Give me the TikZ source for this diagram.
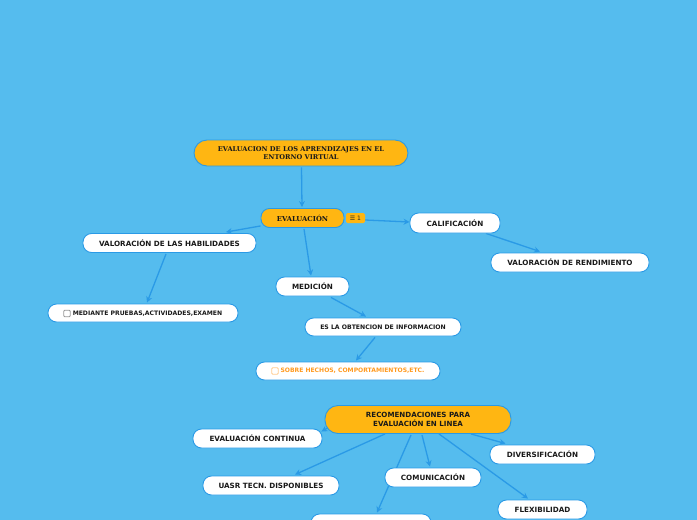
\documentclass[tikz,border=0pt]{standalone}
\usepackage{fontspec}
\setmainfont{DejaVu Sans}
\newfontfamily\titlefont{DejaVu Serif}
\usetikzlibrary{backgrounds,arrows.meta}
\definecolor{bgblue}{HTML}{55BCEE}
\definecolor{edgeblue}{HTML}{2A9AE6}
\definecolor{fillorange}{HTML}{FFB612}
\definecolor{textorange}{HTML}{FF9A1F}
\tikzset{x=1pt,y=-1pt,
 box/.style={draw=edgeblue,line width=0.9pt,rounded corners=8.5pt,inner sep=0pt,align=center,font=\bfseries\fontsize{7.2}{9}\selectfont,text=black!90},
 whitebox/.style={box,fill=white},
 orangebox/.style={box,fill=fillorange},
 conn/.style={draw=edgeblue,line width=1.3pt,-{Stealth[length=6pt,width=6pt]}},
 chk/.style={draw=gray!80,fill=white,rounded corners=1pt,line width=0.8pt,minimum size=6.5pt,inner sep=0pt},
 badge/.style={fill=fillorange,rounded corners=1.5pt,inner sep=0pt,minimum width=19pt,minimum height=10pt,font=\fontsize{6}{7}\selectfont,text=black!85}
}
\begin{document}
\begin{tikzpicture}
\useasboundingbox (0,0) rectangle (697,520);
\clip (0,0) rectangle (697,520);
\begin{scope}[on background layer]
\fill[bgblue] (0,0) rectangle (697,520);
\end{scope}
\node[orangebox,rounded corners=13pt,minimum width=214pt,minimum height=26pt,font=\titlefont\bfseries\fontsize{6.6}{8.3}\selectfont] (root) at (301,153) {EVALUACION DE LOS APRENDIZAJES EN EL\\ENTORNO VIRTUAL};
\node[orangebox,minimum width=83pt,minimum height=19pt,font=\titlefont\bfseries\fontsize{6.8}{9}\selectfont] (eval) at (302.5,218) {EVALUACIÓN};
\node[badge] (bdg) at (355.5,218) {\fontspec{DejaVu Sans}☰ 1};
\node[whitebox,minimum width=90pt,minimum height=20pt] (calif) at (455,223) {CALIFICACIÓN};
\node[whitebox,minimum width=158pt,minimum height=19pt] (rend) at (570,262.5) {VALORACIÓN DE RENDIMIENTO};
\node[whitebox,minimum width=173pt,minimum height=19pt] (habil) at (169.5,243) {VALORACIÓN DE LAS HABILIDADES};
\node[whitebox,minimum width=190pt,minimum height=18pt] (medi) at (143,313) {};
\node[inner sep=0pt,font=\bfseries\fontsize{6.1}{8}\selectfont,text=black!90] (meditxt) at (147.5,313.5) {MEDIANTE PRUEBAS,ACTIVIDADES,EXAMEN};
\node[chk] (medichk) at (67,313.5) {};
\node[whitebox,minimum width=73pt,minimum height=19pt] (medic) at (312.5,286.5) {MEDICIÓN};
\node[whitebox,minimum width=156pt,minimum height=18pt,font=\bfseries\fontsize{6.15}{8}\selectfont] (obt) at (383,327) {ES LA OBTENCION DE INFORMACION};
\node[whitebox,minimum width=184pt,minimum height=18pt] (sobre) at (348,371) {};
\node[inner sep=0pt,font=\bfseries\fontsize{6.05}{8}\selectfont,text=textorange] (sobretxt) at (352.5,371) {SOBRE HECHOS, COMPORTAMIENTOS,ETC.};
\node[chk,draw=textorange!50,fill=white] (sobrechk) at (275,371) {};
\node[orangebox,rounded corners=13pt,minimum width=186pt,minimum height=28pt,font=\bfseries\fontsize{7.1}{9.2}\selectfont] (reco) at (418,419.5) {RECOMENDACIONES PARA\\EVALUACIÓN EN LINEA};
\node[whitebox,minimum width=129pt,minimum height=19pt] (cont) at (257.5,438.5) {EVALUACIÓN CONTINUA};
\node[whitebox,minimum width=136pt,minimum height=19pt] (uasr) at (271,485.5) {UASR TECN. DISPONIBLES};
\node[whitebox,minimum width=96pt,minimum height=19pt] (comu) at (433,477.5) {COMUNICACIÓN};
\node[whitebox,minimum width=105pt,minimum height=19pt] (dive) at (542.5,454.5) {DIVERSIFICACIÓN};
\node[whitebox,minimum width=89pt,minimum height=19pt] (flex) at (542.5,509.5) {FLEXIBILIDAD};
\node[whitebox,minimum width=120pt,minimum height=19pt] (hid) at (371,523.5) {};
\begin{scope}[on background layer]
\draw[conn] ([xshift=0.5pt,yshift=-1pt]root.south) -- ([yshift=1pt,xshift=-0.5pt]eval.north);
\draw[conn] ([yshift=2pt]eval.south west) -- ([xshift=56.5pt,yshift=1pt]habil.north);
\draw[conn] ([xshift=1.5pt,yshift=-1pt]eval.south) -- ([xshift=-1.5pt,yshift=1pt]medic.north);
\draw[conn] ([yshift=-2pt]bdg.east) -- ([yshift=1pt]calif.west);
\draw[conn] ([xshift=31pt,yshift=0pt]calif.south) -- ([xshift=-30pt,yshift=1pt]rend.north);
\draw[conn] ([xshift=-3.5pt,yshift=-1pt]habil.south) -- ([xshift=4pt,yshift=1pt]medi.north);
\draw[conn] ([xshift=18.5pt,yshift=-1pt]medic.south) -- ([xshift=-17pt,yshift=1pt]obt.north);
\draw[conn] ([xshift=-8pt,yshift=-1pt]obt.south) -- ([xshift=8pt,yshift=1pt]sobre.north);
\draw[conn] ([xshift=3pt,yshift=6pt]reco.south west) -- ([xshift=-1pt,yshift=-3pt]cont.north east);
\draw[conn] ([xshift=-33pt,yshift=0pt]reco.south) -- ([xshift=24pt,yshift=1pt]uasr.north);
\draw[conn] ([xshift=4pt,yshift=-1pt]reco.south) -- ([xshift=-3pt,yshift=1pt]comu.north);
\draw[conn] ([xshift=-7pt,yshift=-1pt]reco.south) -- ([xshift=6pt,yshift=1pt]hid.north);
\draw[conn] ([xshift=53pt,yshift=0pt]reco.south) -- ([xshift=-37pt,yshift=1pt]dive.north);
\draw[conn] ([xshift=21pt,yshift=0pt]reco.south) -- ([xshift=-14.5pt,yshift=1pt]flex.north);
\end{scope}
\end{tikzpicture}
\end{document}
